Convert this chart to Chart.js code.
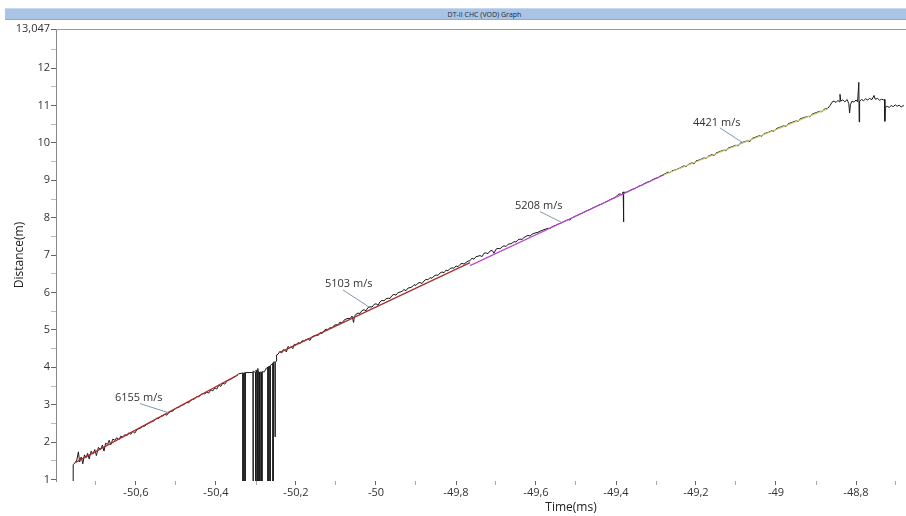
<!DOCTYPE html>
<html lang="en">
<head>
<meta charset="UTF-8">
<title>DT-II CHC (VOD) Graph</title>
<style>
    body {
        margin: 0;
        background: #fff;
    }
    .wrap {
        position: relative;
        width: 906px;
        height: 516px;
    }
    canvas {
        position: absolute;
        left: 0;
        top: 0;
    }
    .titlebar {
        position: absolute;
        left: 5px;
        top: 8px;
        width: 901px;
        height: 12px;
        background: #a9c4e4;
        border-top: 1px solid #c6d8ee;
        border-bottom: 1px solid #8eaacf;
        font-family: "Open Sans", sans-serif;
        font-size: 7px;
        line-height: 12px;
        color: #1f2a3a;
        box-sizing: border-box;
        padding-left: 58px;
        text-align: center;
    }
</style>
</head>
<body>
<div class="wrap">
    <canvas id="vodChart" width="906" height="516"></canvas>
    <div class="titlebar">DT-II CHC (VOD) Graph</div>
</div>

<script src="https://cdn.jsdelivr.net/npm/chart.js"></script>
<script>
// raw probe trace, time (ms) / distance (m)
const traceRise1 = [
    [-50.757, 0.9], [-50.757, 1.40], [-50.752, 1.45], [-50.748, 1.52], [-50.744, 1.74],
    [-50.741, 1.47], [-50.737, 1.60], [-50.733, 1.42], [-50.729, 1.66], [-50.725, 1.58],
    [-50.721, 1.70], [-50.717, 1.55], [-50.712, 1.76], [-50.708, 1.68], [-50.703, 1.80],
    [-50.699, 1.64], [-50.694, 1.86], [-50.689, 1.80], [-50.684, 1.92], [-50.680, 1.76],
    [-50.676, 1.97], [-50.671, 1.94], [-50.667, 2.05], [-50.663, 1.93], [-50.658, 2.08],
    [-50.653, 2.05], [-50.648, 2.12], [-50.643, 2.06], [-50.638, 2.16], [-50.633, 2.13],
    [-50.628, 2.20], [-50.623, 2.17], [-50.618, 2.25], [-50.613, 2.21], [-50.608, 2.29],
    [-50.603, 2.24], [-50.598, 2.33], [-50.593, 2.36], [-50.588, 2.38], [-50.583, 2.42],
    [-50.578, 2.43], [-50.573, 2.48], [-50.568, 2.50], [-50.563, 2.54], [-50.558, 2.55],
    [-50.553, 2.59], [-50.548, 2.64], [-50.543, 2.63], [-50.538, 2.69], [-50.533, 2.70],
    [-50.528, 2.74], [-50.523, 2.72], [-50.518, 2.79], [-50.513, 2.82], [-50.508, 2.83],
    [-50.503, 2.88], [-50.498, 2.92], [-50.493, 2.93], [-50.488, 2.97], [-50.483, 2.99],
    [-50.478, 3.02], [-50.473, 3.06], [-50.468, 3.05], [-50.463, 3.12], [-50.458, 3.14],
    [-50.453, 3.16], [-50.448, 3.22], [-50.443, 3.21], [-50.438, 3.27], [-50.433, 3.30],
    [-50.428, 3.29], [-50.423, 3.34], [-50.418, 3.31], [-50.413, 3.40], [-50.408, 3.37],
    [-50.403, 3.45], [-50.398, 3.42], [-50.393, 3.52], [-50.388, 3.49], [-50.383, 3.58],
    [-50.378, 3.55], [-50.373, 3.63], [-50.368, 3.66], [-50.363, 3.68], [-50.358, 3.72],
    [-50.353, 3.74], [-50.348, 3.78], [-50.344, 3.82], [-50.337, 3.84]
];
const traceDropout = [
    [-50.335, 3.85], [-50.3325, 3.84], [-50.3325, 0.9], [-50.3318, 0.9], [-50.3318, 3.84],
    [-50.3275, 3.85], [-50.3275, 0.9], [-50.3268, 0.9], [-50.3268, 3.86], [-50.3075, 3.86],
    [-50.3075, 0.9], [-50.3068, 0.9], [-50.3068, 3.90], [-50.301, 3.86], [-50.3005, 0.9],
    [-50.2998, 0.9], [-50.2998, 3.93], [-50.297, 3.82], [-50.296, 3.97], [-50.295, 3.88],
    [-50.295, 0.9], [-50.2943, 0.9], [-50.2943, 3.90], [-50.291, 3.86], [-50.2905, 0.9],
    [-50.2898, 0.9], [-50.2898, 3.87], [-50.2855, 3.87], [-50.2855, 0.9], [-50.2848, 0.9],
    [-50.2848, 3.88], [-50.279, 3.88], [-50.274, 3.98], [-50.270, 4.00], [-50.270, 0.9],
    [-50.2693, 0.9], [-50.2693, 4.02], [-50.265, 4.02], [-50.265, 0.9], [-50.2643, 0.9],
    [-50.2643, 4.05], [-50.2575, 4.10], [-50.2575, 0.9], [-50.2568, 0.9], [-50.2568, 4.14],
    [-50.2525, 4.14], [-50.2525, 2.14], [-50.2518, 2.14], [-50.2518, 4.14], [-50.2495, 4.16],
    [-50.2485, 4.33], [-50.245, 4.35]
];
const traceRise2 = [
    [-50.240, 4.43], [-50.236, 4.38], [-50.232, 4.47], [-50.228, 4.46], [-50.224, 4.41],
    [-50.220, 4.56], [-50.216, 4.52], [-50.212, 4.55], [-50.208, 4.50], [-50.204, 4.62],
    [-50.200, 4.60], [-50.195, 4.66], [-50.190, 4.63], [-50.185, 4.71], [-50.180, 4.70],
    [-50.175, 4.74], [-50.170, 4.76], [-50.165, 4.72], [-50.160, 4.82], [-50.155, 4.84],
    [-50.150, 4.86], [-50.145, 4.85], [-50.140, 4.93], [-50.135, 4.90], [-50.130, 4.98],
    [-50.125, 5.02], [-50.120, 5.01], [-50.115, 5.06], [-50.110, 5.05], [-50.105, 5.12],
    [-50.100, 5.14], [-50.095, 5.13], [-50.090, 5.21], [-50.085, 5.18], [-50.080, 5.26],
    [-50.075, 5.29], [-50.070, 5.31], [-50.065, 5.30], [-50.060, 5.37], [-50.056, 5.20],
    [-50.054, 5.36], [-50.050, 5.42], [-50.045, 5.45], [-50.040, 5.44], [-50.035, 5.52],
    [-50.030, 5.54], [-50.025, 5.51], [-50.020, 5.60], [-50.015, 5.62], [-50.010, 5.61],
    [-50.005, 5.68], [-50.000, 5.70], [-49.995, 5.66], [-49.990, 5.75], [-49.985, 5.79],
    [-49.980, 5.78], [-49.975, 5.83], [-49.970, 5.85], [-49.965, 5.84], [-49.960, 5.92],
    [-49.955, 5.95], [-49.950, 5.93], [-49.945, 6.00], [-49.940, 6.01], [-49.935, 6.03],
    [-49.930, 6.08], [-49.925, 6.05], [-49.920, 6.12], [-49.915, 6.13], [-49.910, 6.15],
    [-49.905, 6.21], [-49.900, 6.19], [-49.895, 6.25], [-49.890, 6.27], [-49.885, 6.24],
    [-49.880, 6.31], [-49.875, 6.35], [-49.870, 6.34], [-49.865, 6.40], [-49.860, 6.38],
    [-49.855, 6.44], [-49.850, 6.47], [-49.845, 6.46], [-49.840, 6.52], [-49.835, 6.55],
    [-49.830, 6.53], [-49.825, 6.60], [-49.820, 6.58], [-49.815, 6.64], [-49.810, 6.66],
    [-49.805, 6.65], [-49.800, 6.71], [-49.795, 6.69], [-49.790, 6.75], [-49.785, 6.78],
    [-49.780, 6.76], [-49.775, 6.80], [-49.770, 6.84]
];
const traceRise3 = [
    [-49.765, 6.85], [-49.760, 6.92], [-49.755, 6.89], [-49.750, 6.96], [-49.745, 6.97],
    [-49.740, 6.99], [-49.735, 6.96], [-49.730, 7.05], [-49.725, 7.06], [-49.720, 7.04],
    [-49.715, 7.11], [-49.710, 7.13], [-49.705, 7.05], [-49.700, 7.16], [-49.695, 7.18],
    [-49.690, 7.17], [-49.685, 7.22], [-49.680, 7.25], [-49.675, 7.23], [-49.670, 7.29],
    [-49.665, 7.30], [-49.660, 7.32], [-49.655, 7.36], [-49.650, 7.35], [-49.645, 7.41],
    [-49.640, 7.43], [-49.635, 7.42], [-49.630, 7.47], [-49.625, 7.50], [-49.620, 7.53],
    [-49.615, 7.51], [-49.610, 7.56], [-49.605, 7.58], [-49.600, 7.60], [-49.595, 7.61],
    [-49.590, 7.64], [-49.585, 7.66], [-49.580, 7.68], [-49.575, 7.70], [-49.570, 7.72],
    [-49.565, 7.71], [-49.560, 7.76], [-49.555, 7.78], [-49.550, 7.80], [-49.545, 7.83],
    [-49.540, 7.85], [-49.535, 7.87], [-49.530, 7.90], [-49.525, 7.92], [-49.520, 7.95],
    [-49.515, 7.94], [-49.510, 8.00], [-49.505, 8.02], [-49.500, 8.05], [-49.495, 8.07],
    [-49.490, 8.10], [-49.485, 8.12], [-49.480, 8.15], [-49.475, 8.18], [-49.470, 8.20],
    [-49.465, 8.22], [-49.460, 8.25], [-49.455, 8.28], [-49.450, 8.30], [-49.445, 8.33],
    [-49.440, 8.35], [-49.435, 8.37], [-49.430, 8.40], [-49.425, 8.43], [-49.420, 8.45],
    [-49.415, 8.48], [-49.410, 8.51], [-49.405, 8.53], [-49.400, 8.56], [-49.395, 8.62],
    [-49.390, 8.64], [-49.385, 8.61], [-49.382, 8.69], [-49.3815, 7.89], [-49.3808, 7.89],
    [-49.3803, 8.68], [-49.375, 8.68], [-49.370, 8.70], [-49.360, 8.76], [-49.355, 8.77],
    [-49.350, 8.80], [-49.340, 8.86], [-49.335, 8.87], [-49.330, 8.91], [-49.320, 8.96],
    [-49.315, 8.97], [-49.310, 9.01], [-49.300, 9.06], [-49.295, 9.07], [-49.290, 9.11],
    [-49.280, 9.16]
];
const traceRise4 = [
    [-49.270, 9.22], [-49.265, 9.20], [-49.260, 9.26], [-49.250, 9.28], [-49.245, 9.31],
    [-49.240, 9.33], [-49.230, 9.39], [-49.225, 9.36], [-49.220, 9.42], [-49.210, 9.47],
    [-49.205, 9.44], [-49.200, 9.52], [-49.190, 9.55], [-49.180, 9.60], [-49.175, 9.58],
    [-49.170, 9.64], [-49.160, 9.69], [-49.155, 9.66], [-49.150, 9.73], [-49.140, 9.77],
    [-49.130, 9.81], [-49.125, 9.79], [-49.120, 9.86], [-49.110, 9.90], [-49.100, 9.94],
    [-49.095, 9.92], [-49.090, 9.99], [-49.080, 10.03], [-49.070, 10.06], [-49.065, 10.04],
    [-49.060, 10.12], [-49.050, 10.16], [-49.040, 10.20], [-49.035, 10.18], [-49.030, 10.25],
    [-49.020, 10.28], [-49.010, 10.33], [-49.005, 10.31], [-49.000, 10.38], [-48.990, 10.42],
    [-48.980, 10.46], [-48.975, 10.44], [-48.970, 10.51], [-48.960, 10.55], [-48.950, 10.59],
    [-48.945, 10.57], [-48.940, 10.64], [-48.930, 10.68], [-48.920, 10.71], [-48.915, 10.70],
    [-48.910, 10.77], [-48.900, 10.81], [-48.890, 10.85], [-48.885, 10.83], [-48.880, 10.90],
    [-48.870, 10.93]
];
const tracePlateau = [
    [-48.865, 11.00], [-48.860, 11.09], [-48.855, 11.12], [-48.850, 11.08], [-48.845, 11.14],
    [-48.842, 11.10], [-48.840, 11.30], [-48.838, 11.12], [-48.833, 11.15], [-48.828, 11.10],
    [-48.822, 11.16], [-48.818, 11.05], [-48.816, 10.80], [-48.814, 11.02], [-48.810, 11.12],
    [-48.805, 11.09], [-48.800, 11.15], [-48.796, 11.10], [-48.793, 11.62], [-48.792, 10.56],
    [-48.791, 11.12], [-48.786, 11.16], [-48.781, 11.13], [-48.776, 11.18], [-48.771, 11.15],
    [-48.766, 11.19], [-48.760, 11.16], [-48.755, 11.27], [-48.752, 11.17], [-48.746, 11.19],
    [-48.741, 11.14], [-48.736, 11.17], [-48.731, 11.15], [-48.728, 11.16], [-48.728, 10.58],
    [-48.727, 10.95], [-48.722, 10.98], [-48.717, 10.95], [-48.712, 11.00], [-48.707, 10.97],
    [-48.702, 11.02], [-48.697, 10.98], [-48.692, 11.01], [-48.687, 10.96], [-48.682, 11.00],
    [-48.678, 10.98]
];

// velocity fits
const fitLabels = ['6155 m/s', '5103 m/s', '5208 m/s', '4421 m/s'];
const fitStart = [[-50.752, 1.45], [-50.240, 4.40], [-49.765, 6.72], [-49.280, 9.15]];
const fitEnd = [[-50.345, 3.80], [-49.765, 6.80], [-49.280, 9.15], [-48.870, 10.92]];
const fitMarks = [[-50.52, 2.79], [-50.01, 5.56], [-49.535, 7.87], [-49.0825, 10.00]];

// axis ticks
const xTickValues = [-50.7, -50.6, -50.5, -50.4, -50.3, -50.2, -50.1, -50.0, -49.9, -49.8, -49.7,
    -49.6, -49.5, -49.4, -49.3, -49.2, -49.1, -49.0, -48.9, -48.8, -48.7];
const xTickLabels = ['', '-50,6', '', '-50,4', '', '-50,2', '', '-50', '', '-49,8', '',
    '-49,6', '', '-49,4', '', '-49,2', '', '-49', '', '-48,8', ''];
const yTickValues = [1, 1.5, 2, 2.5, 3, 3.5, 4, 4.5, 5, 5.5, 6, 6.5, 7, 7.5, 8, 8.5, 9, 9.5,
    10, 10.5, 11, 11.5, 12, 12.5, 13.047];
const yTickLabels = ['1', '', '2', '', '3', '', '4', '', '5', '', '6', '', '7', '', '8', '',
    '9', '', '10', '', '11', '', '12', '', '13,047'];

const fitColors = ['#b22a2a', '#a33232', '#b84ccc', '#c9c870'];
// leader start / text position relative to the mark, px
const calloutOffsets = [
    { lx: -28, ly: -9, tx: -53, ty: -15 },
    { lx: -29, ly: -19, tx: -47, ty: -25 },
    { lx: -22, ly: -11, tx: -47, ty: -17 },
    { lx: -23, ly: -15, tx: -50, ty: -20 }
];

const toPts = arr => arr.map(p => ({ x: p[0], y: p[1] }));
const trace = [].concat(traceRise1, traceDropout, traceRise2, traceRise3, traceRise4, tracePlateau);

const datasets = fitLabels.map((label, i) => ({
    label: label,
    data: toPts([fitStart[i], fitEnd[i]]),
    borderColor: fitColors[i],
    borderWidth: 1.3,
    showLine: true,
    pointRadius: 0,
    order: 1
}));
datasets.push({
    label: 'trace',
    data: toPts(trace),
    borderColor: '#1a1a1a',
    borderWidth: 1,
    showLine: true,
    pointRadius: 0,
    tension: 0,
    clip: 0,
    order: 2
});

const tickFont = { family: 'Open Sans', size: 11 };

const decorPlugin = {
    id: 'decor',
    afterDatasetsDraw(chart) {
        const ctx = chart.ctx;
        const xs = chart.scales.x;
        const ys = chart.scales.y;
        const area = chart.chartArea;
        ctx.save();
        // top frame line
        ctx.strokeStyle = '#9a9a9a';
        ctx.lineWidth = 1;
        ctx.beginPath();
        ctx.moveTo(area.left, area.top + 0.5);
        ctx.lineTo(chart.width, area.top + 0.5);
        ctx.stroke();

        // velocity callouts
        ctx.font = '11px "Open Sans"';
        ctx.textBaseline = 'middle';
        ctx.textAlign = 'left';
        fitMarks.forEach((m, i) => {
            const px = xs.getPixelForValue(m[0]);
            const py = ys.getPixelForValue(m[1]);
            const o = calloutOffsets[i];
            ctx.strokeStyle = '#7f98ad';
            ctx.beginPath();
            ctx.moveTo(px + o.lx, py + o.ly);
            ctx.lineTo(px, py);
            ctx.stroke();
            ctx.fillStyle = '#333';
            ctx.fillText(fitLabels[i], px + o.tx, py + o.ty);
        });

        // x axis title
        ctx.font = '12px "Open Sans"';
        ctx.textAlign = 'center';
        ctx.fillStyle = '#222';
        ctx.fillText('Time(ms)', 571, 508);
        ctx.restore();
    }
};

new Chart(document.getElementById('vodChart'), {
    type: 'scatter',
    data: { datasets: datasets },
    options: {
        responsive: false,
        animation: false,
        layout: { padding: { top: 29, right: 2, left: 0, bottom: 0 } },
        plugins: {
            legend: { display: false },
            tooltip: { enabled: false }
        },
        scales: {
            x: {
                type: 'linear',
                min: -50.8,
                max: -48.68,
                afterBuildTicks: scale => {
                    scale.ticks = xTickValues.map(v => ({ value: v }));
                },
                afterFit: scale => { scale.height = 35; },
                border: { display: false },
                grid: {
                    drawOnChartArea: false,
                    drawTicks: true,
                    tickLength: 4,
                    tickColor: c => (c.index % 2 === 1 ? '#666' : '#aaa')
                },
                ticks: {
                    autoSkip: false,
                    maxRotation: 0,
                    padding: 1,
                    color: '#333',
                    font: tickFont,
                    callback: (v, i) => xTickLabels[i]
                }
            },
            y: {
                type: 'linear',
                min: 0.96,
                max: 13.047,
                afterBuildTicks: scale => {
                    scale.ticks = yTickValues.map(v => ({ value: v }));
                },
                afterFit: scale => { scale.width = 56; },
                border: { display: true, color: '#8a8a8a' },
                grid: {
                    drawOnChartArea: false,
                    drawTicks: true,
                    tickLength: 5,
                    tickColor: c => (c.index % 2 === 0 ? '#666' : '#bbb')
                },
                ticks: {
                    autoSkip: false,
                    padding: 1,
                    color: '#333',
                    font: tickFont,
                    callback: (v, i) => yTickLabels[i]
                },
                title: {
                    display: true,
                    text: 'Distance(m)',
                    color: '#222',
                    font: { family: 'Open Sans', size: 12 },
                    padding: { top: 12, bottom: 0 }
                }
            }
        }
    },
    plugins: [decorPlugin]
});
</script>
</body>
</html>
